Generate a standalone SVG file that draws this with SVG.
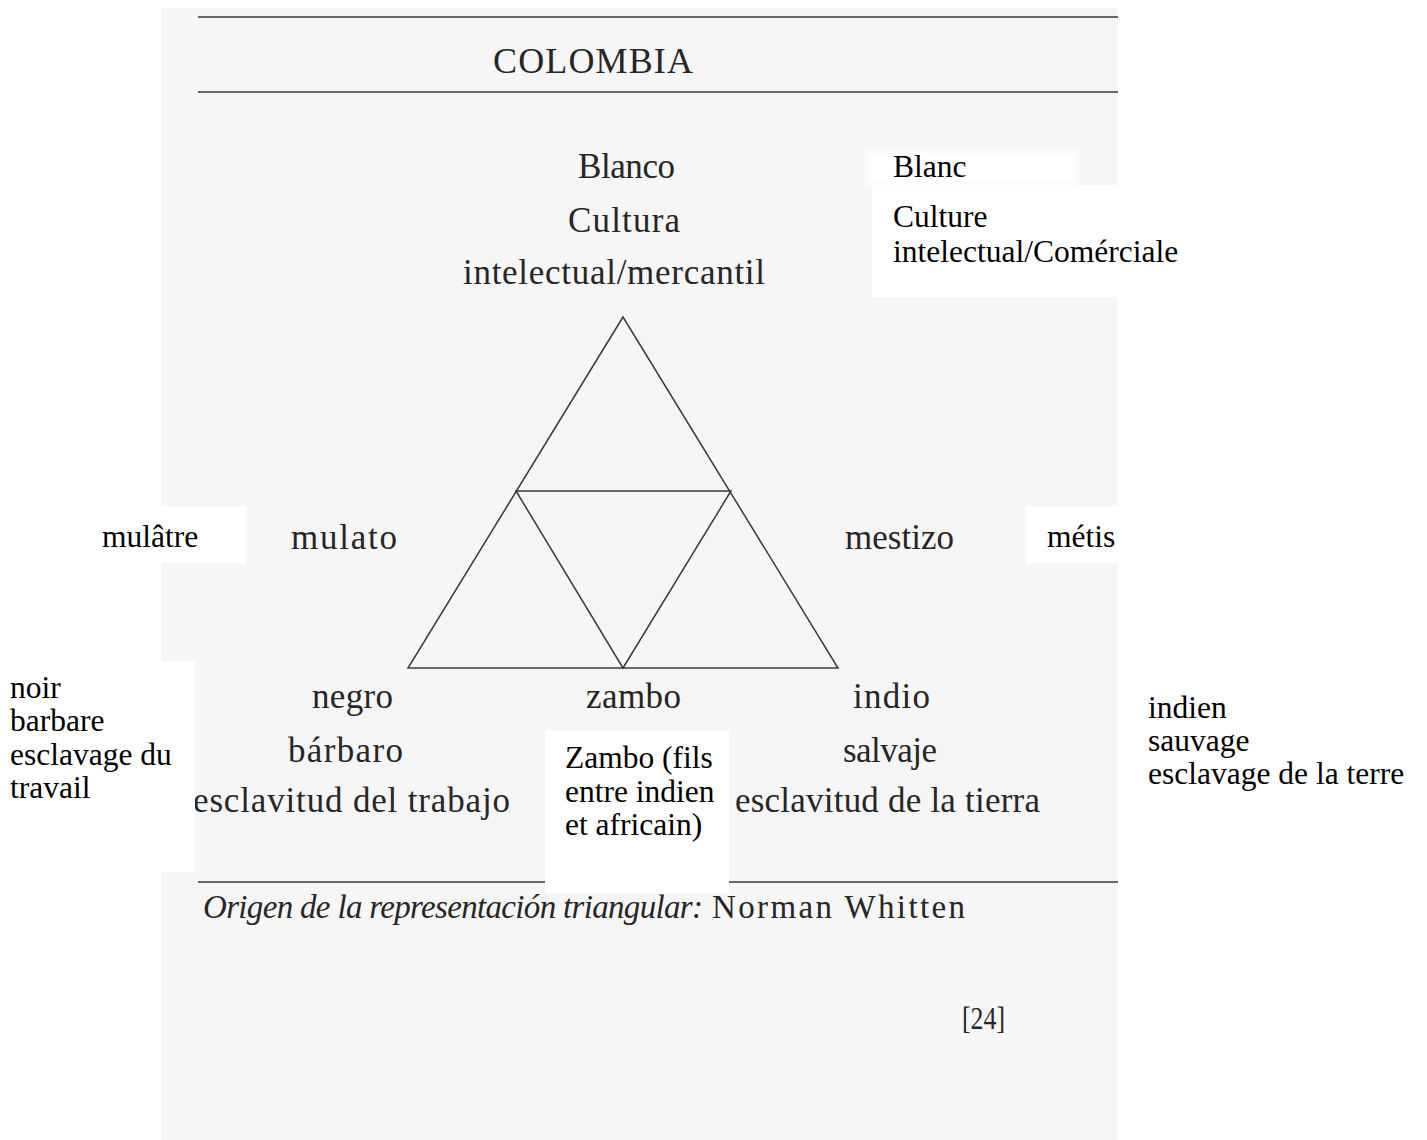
<svg xmlns="http://www.w3.org/2000/svg" width="1427" height="1140" viewBox="0 0 1427 1140">
<defs>
<filter id="soft" x="-10%" y="-30%" width="120%" height="160%"><feGaussianBlur stdDeviation="3"/></filter>
</defs>
<style>
.es{font-family:"Liberation Serif",serif;font-size:35px;fill:#262626}
.fr{font-family:"Liberation Serif",serif;font-size:31.5px;fill:#000}
.rule{stroke:#3a3a3a;stroke-width:1.6;fill:none}
.tri{stroke:#3a3a3a;stroke-width:1.5;fill:none;stroke-linecap:round}
.mask{fill:#fff}
</style>
<rect width="1427" height="1140" fill="#fff"/>
<rect x="161" y="8" width="957" height="1132" fill="#f6f6f6"/>
<g id="rules">
<line class="rule" x1="198" y1="17" x2="1118" y2="17"/>
<line class="rule" x1="198" y1="92" x2="1118" y2="92"/>
<line class="rule" x1="198" y1="882" x2="1118" y2="882"/>
</g>
<g id="title"><text class="es" x="493" y="73" style="font-size:36px" textLength="200">COLOMBIA</text></g>
<g id="connectors">
<polygon class="tri" points="623,317 408,668 838,668"/>
<polygon class="tri" points="516,491 731,491 623,668"/>
</g>
<g id="node-blanco">
<text class="es" x="578" y="178" textLength="97">Blanco</text>
<text class="es" x="568" y="232" textLength="112">Cultura</text>
<text class="es" x="463" y="284" textLength="302">intelectual/mercantil</text>
</g>
<g id="node-mulato"><text class="es" x="291" y="549" textLength="106">mulato</text></g>
<g id="node-mestizo"><text class="es" x="845" y="549" textLength="109">mestizo</text></g>
<g id="node-negro">
<text class="es" x="312" y="708" textLength="81">negro</text>
<text class="es" x="288" y="762" textLength="115">bárbaro</text>
<text class="es" x="193" y="812" textLength="317">esclavitud del trabajo</text>
</g>
<g id="node-zambo"><text class="es" x="586" y="708" textLength="95">zambo</text></g>
<g id="node-indio">
<text class="es" x="853" y="708" textLength="77">indio</text>
<text class="es" x="843" y="762" textLength="94">salvaje</text>
<text class="es" x="735" y="812" textLength="305">esclavitud de la tierra</text>
</g>
<g id="footer">
<text class="es" x="203" y="918" style="font-size:33px;font-style:italic" textLength="500">Origen de la representación triangular:</text>
<text class="es" x="712" y="918" style="font-size:33px" textLength="253">Norman Whitten</text>
<text class="es" x="962" y="1029" style="font-size:31px" textLength="43" lengthAdjust="spacingAndGlyphs">[24]</text>
</g>
<g id="fr-blanc">
<rect class="mask" x="866" y="151" width="212" height="34" filter="url(#soft)"/>
<rect class="mask" x="872" y="185" width="246" height="112"/>
<text class="fr" x="893" y="177">Blanc</text>
<text class="fr" x="893" y="227">Culture</text>
<text class="fr" x="893" y="262">intelectual/Comérciale</text>
</g>
<g id="fr-mulatre">
<rect class="mask" x="160" y="506" width="86" height="57"/>
<text class="fr" x="102" y="547">mulâtre</text>
</g>
<g id="fr-metis">
<rect class="mask" x="1026" y="506" width="93" height="57"/>
<text class="fr" x="1047" y="547">métis</text>
</g>
<g id="fr-noir">
<rect class="mask" x="160" y="661" width="35" height="211"/>
<text class="fr" x="10" y="698">noir</text>
<text class="fr" x="10" y="731">barbare</text>
<text class="fr" x="10" y="765">esclavage du</text>
<text class="fr" x="10" y="798">travail</text>
</g>
<g id="fr-zambo">
<rect class="mask" x="545" y="730" width="184" height="163"/>
<text class="fr" x="565" y="768">Zambo (fils</text>
<text class="fr" x="565" y="802">entre indien</text>
<text class="fr" x="565" y="835">et africain)</text>
</g>
<g id="fr-indien">
<text class="fr" x="1148" y="718">indien</text>
<text class="fr" x="1148" y="751">sauvage</text>
<text class="fr" x="1148" y="784">esclavage de la terre</text>
</g>
</svg>
